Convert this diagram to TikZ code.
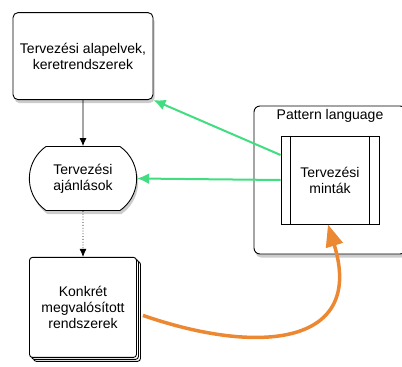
\documentclass[tikz,border=0pt]{standalone}
\usepackage{fontspec}
\setmainfont{Liberation Sans}
\usetikzlibrary{matrix,arrows.meta,shapes.misc,shadows,positioning}
\definecolor{zold}{RGB}{64,222,128}
\definecolor{narancs}{RGB}{236,136,50}
\tikzset{
	every node/.style={font=\fontsize{14}{16}\selectfont},
	arnyek/.style={drop shadow={shadow xshift=1.5pt, shadow yshift=-3.5pt, opacity=.4}},
	doboz/.style={draw, line width=0.9pt, fill=white, align=center},
	elvek/.style={doboz, rectangle, rounded corners=5pt, minimum width=140pt, minimum height=87pt, arnyek},
	ajanl/.style={doboz, rounded rectangle, rounded rectangle arc length=110, minimum width=114pt, minimum height=64pt, arnyek},
	rendszer/.style={doboz, rectangle, rounded corners=3pt, minimum width=107pt, minimum height=100pt, double copy shadow={shadow xshift=2pt, shadow yshift=-2pt}},
	nyelv/.style={doboz, rectangle, rounded corners=6pt, minimum width=152pt, minimum height=148pt, arnyek},
	minta/.style={doboz, rectangle, minimum width=98pt, minimum height=88pt},
	fekete/.style={line width=0.8pt, -{Latex[length=8pt,width=7pt]}},
	zoldnyil/.style={draw=zold, line width=2pt, -{Latex[length=12pt,width=11pt]}},
	narancsnyil/.style={draw=narancs, line width=3.5pt, -{Triangle[length=22pt,width=17pt]}}
}
\begin{document}
\begin{tikzpicture}[x=1pt, y=-1pt]
\useasboundingbox (0,0) rectangle (402,367);
\matrix (m) [row sep=46pt] at (83,185)
{
	\node[elvek] (elv) {Tervezési alapelvek,\\ keretrendszerek}; \\
	\node[ajanl] (ajanl) {Tervezési\\ ajánlások}; \\
	\node[rendszer] (rendsz) {Konkrét\\ megvalósított\\ rendszerek}; \\
};
% pattern language
\node[nyelv] (nyelv) at (330,180) {};
\node[below=0pt of nyelv.north] (nyelvcim) {Pattern language};
\node[minta] (minta) at (330,180) {Tervezési\\ minták};
\draw[line width=0.9pt] ([xshift=10pt]minta.north west) -- ([xshift=10pt]minta.south west);
\draw[line width=0.9pt] ([xshift=-10pt]minta.north east) -- ([xshift=-10pt]minta.south east);
\path[fekete]
(elv) edge (ajanl)
(ajanl) edge[dotted] (rendsz)
;
\draw[zoldnyil] ([yshift=25pt]minta.west) -- (elv.south east);
\draw[zoldnyil] (minta.west) -- (ajanl.east);
\draw[narancsnyil] ([xshift=6pt,yshift=-8pt]rendsz.east) .. controls (260,356) and (365,345) .. ([xshift=-2pt]minta.south);
\end{tikzpicture}
\end{document}
